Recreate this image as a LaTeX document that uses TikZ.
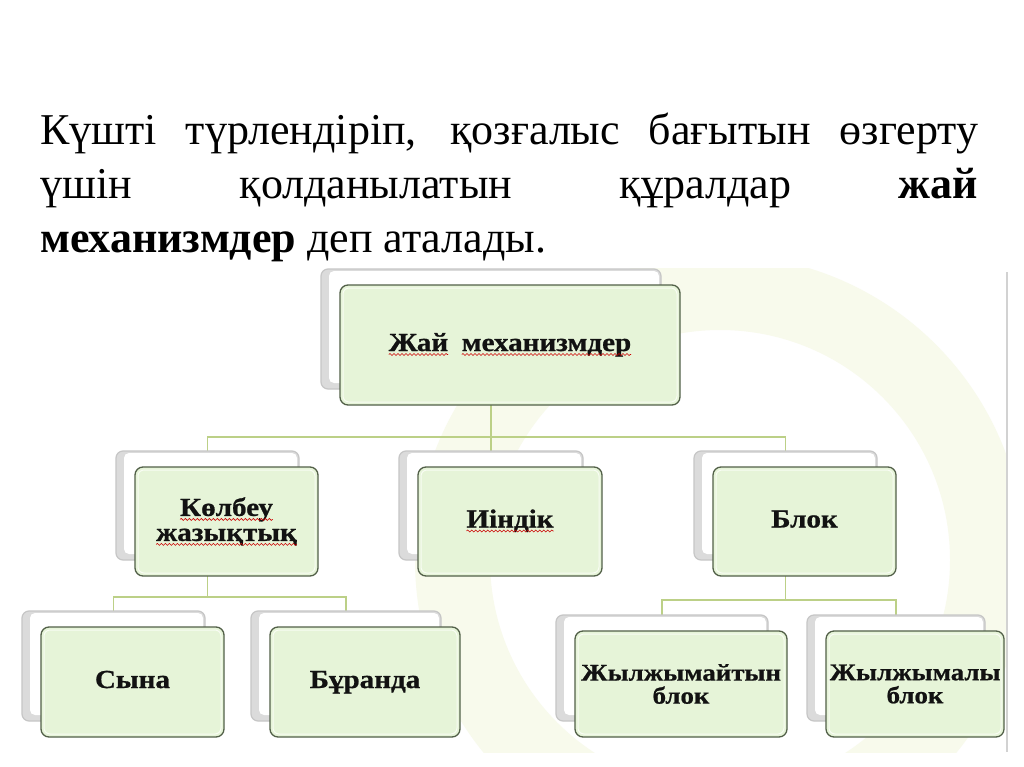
\documentclass[tikz,border=0pt]{standalone}
\usepackage{fontspec}
\setmainfont{Liberation Serif}
\newfontfamily\lblfont[FakeStretch=1.12, BoldFeatures={FakeBold=0.8}]{Liberation Serif}
\usetikzlibrary{decorations.pathmorphing}
\pgfdeclarelayer{background}
\pgfsetlayers{background,main}
\definecolor{boxgreen}{RGB}{230,244,216}
\definecolor{boxedge}{RGB}{82,96,72}
\definecolor{connc}{RGB}{188,208,135}
\definecolor{wmc}{RGB}{248,250,236}
\definecolor{lblc}{RGB}{18,18,18}
\tikzset{
  shbox/.style={rectangle, rounded corners=7pt, draw=gray!45, line width=1.2pt, fill=gray!28, inner sep=0pt, outer sep=0pt},
  mainbox/.style={rectangle, rounded corners=8pt, draw=boxedge, line width=1.3pt, fill=boxgreen, inner sep=0pt, outer sep=0pt, align=center, text=lblc, font=\lblfont\bfseries\fontsize{26}{25}\selectfont},
  oneline/.style={text height=18pt, text depth=6pt},
  smalltxt/.style={font=\lblfont\bfseries\fontsize{24}{23}\selectfont},
  conn/.style={draw=connc, line width=1.7pt},
  wordbox/.style={rectangle, inner sep=0pt, outer sep=0pt, draw=none, fill=none, minimum width=0pt, minimum height=0pt, rounded corners=0pt, text height=, text depth=},
  squig/.style={draw=red!80!black, line width=0.6pt, sharp corners, decorate, decoration={snake, amplitude=1pt, segment length=4pt}}
}
\newcommand\rwave[1]{\tikz[baseline=(w.base),x=1pt,y=1pt]{\node[wordbox] (w) {#1};\draw[squig] ([yshift=-3.5pt]w.base west) -- ([yshift=-3.5pt]w.base east);}}
\newcommand\twobox[7][]{%
  \node[shbox, minimum width=#5pt, minimum height=#6pt] (#2S) at (#3-19,#4-16) {};
  \fill[white, rounded corners=5pt] ([xshift=8pt,yshift=-2pt]#2S.north west) rectangle ([xshift=-2pt,yshift=6pt]#2S.south east);
  \node[mainbox, minimum width=#5pt, minimum height=#6pt, #1] (#2) at (#3,#4) {#7};
  \draw[white!70!boxgreen, line width=1pt, rounded corners=6pt] ([xshift=3pt,yshift=-3pt]#2.north west) rectangle ([xshift=-3pt,yshift=3pt]#2.south east);
}
\begin{document}
\begin{tikzpicture}[x=1pt,y=-1pt]
\useasboundingbox (0,0) rectangle (1024,767);
\begin{pgfonlayer}{background}
\fill[white] (0,0) rectangle (1024,767);
\end{pgfonlayer}

\node[anchor=north west, inner sep=0pt, text width=938pt, align=justify,
  font=\fontsize{44}{54}\selectfont] (title) at (40,113)
  {\hyphenpenalty10000 \exhyphenpenalty10000 Күшті түрлендіріп, қозғалыс бағытын өзгерту\linebreak үшін қолданылатын құралдар \textbf{жай}\linebreak \textbf{механизмдер} деп аталады.};

\twobox[oneline]{top}{510}{345}{340}{120}{\rwave{Жай}\enspace\rwave{механизмдер}}
\twobox{kol}{226.5}{521.5}{183}{109}{\rwave{Көлбеу}\\\rwave{жазықтық}}
\twobox[oneline]{iin}{510}{521.5}{184}{109}{\rwave{Иіндік}}
\twobox[oneline]{blk}{804.5}{521.5}{183}{109}{Блок}
\twobox[oneline]{syn}{132.5}{682}{183}{110}{Сына}
\twobox[oneline]{bur}{365}{682}{190}{110}{Бұранда}
\twobox[smalltxt]{jmt}{681}{684}{212}{106}{Жылжымайтын\\блок}
\twobox[smalltxt]{jml}{915}{684}{178}{106}{Жылжымалы\\блок}

\begin{pgfonlayer}{background}
  \begin{scope}
    \clip (10,268) rectangle (1006,752);
    \fill[wmc, even odd rule] (720,560) circle (305) (720,560) circle (230);
  \end{scope}
  \draw[gray!35, line width=2pt] (1007,272) -- (1007,752);
  \coordinate (j1) at (491,437);
  \coordinate (j2) at (207.5,597);
  \coordinate (j3) at (785.5,600);
  \draw[conn] (topS.south) -- (j1);
  \draw[conn] (kolS.north) |- (j1);
  \draw[conn] (iinS.north) -- (j1);
  \draw[conn] (blkS.north) |- (j1);
  \draw[conn] (kolS.south) -- (j2);
  \draw[conn] (synS.north) |- (j2);
  \draw[conn] (burS.north) |- (j2);
  \draw[conn] (blkS.south) -- (j3);
  \draw[conn] (jmtS.north) |- (j3);
  \draw[conn] (jmlS.north) |- (j3);
\end{pgfonlayer}
\end{tikzpicture}
\end{document}
